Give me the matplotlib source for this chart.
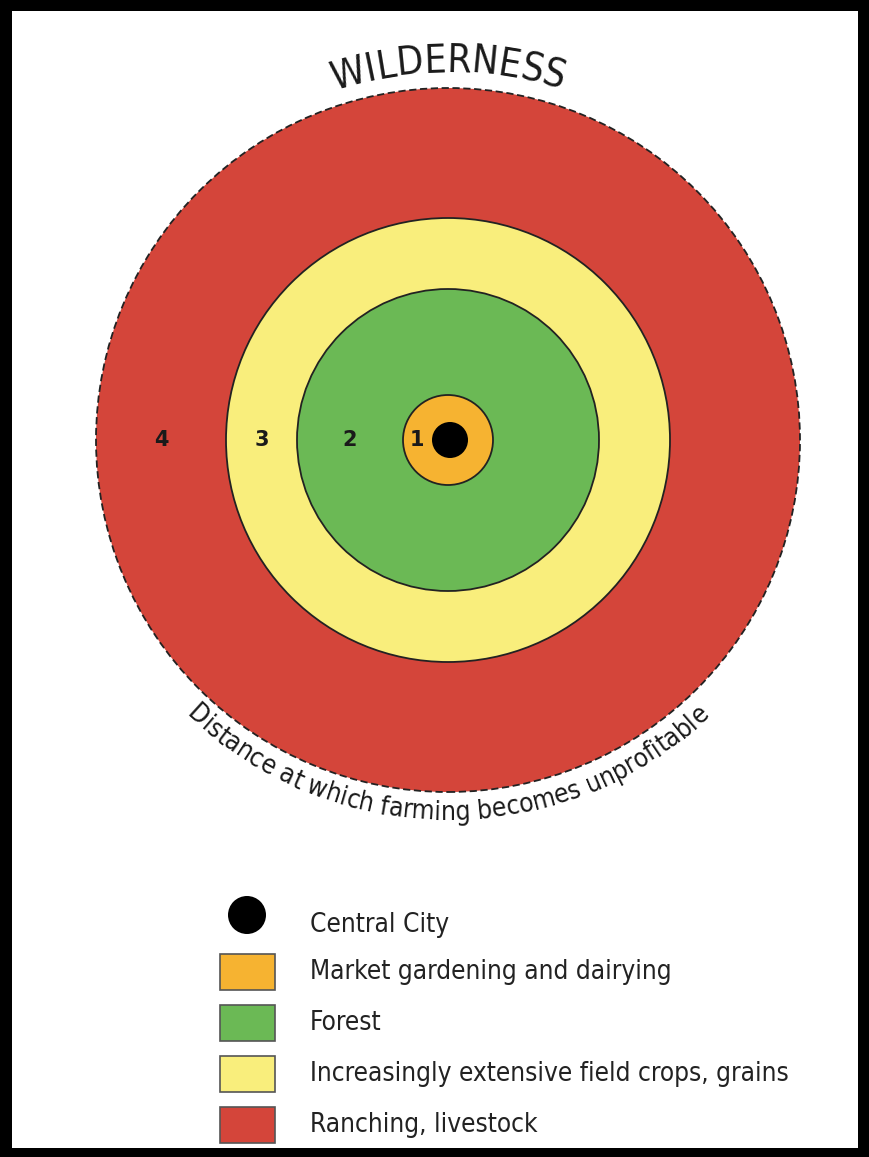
import numpy as np
import matplotlib.pyplot as plt
from matplotlib.patches import Circle, Rectangle
from matplotlib.font_manager import FontProperties
from matplotlib.textpath import TextToPath

# von Thunen zones, from the city outwards
zone_numbers = ['1', '2', '3', '4']
zone_names = ['Market gardening and dairying', 'Forest',
              'Increasingly extensive field crops, grains', 'Ranching, livestock']
zone_radii = [45, 151, 222, 352]          # outer edge of each ring
zone_colors = ['#F6B331', '#6BB955', '#F9EE7C', '#D4453A']
city_name = 'Central City'
city_radius = 18
top_label = 'WILDERNESS'
bottom_label = 'Distance at which farming becomes unprofitable'

W, H = 869, 1157
CX, CY = 448, H - 440
FONT = ['DejaVu Sans']
tp = TextToPath()


def text_w(s, fp):
    # width in pixels (dpi 100)
    return tp.get_text_width_height_descent(s, fp, ismath=False)[0] * 100 / 72


def arc_text(ax, s, radius, fp, top=True):
    total = text_w(s, fp)
    for i, ch in enumerate(s):
        c = (text_w(s[:i], fp) + text_w(s[:i + 1], fp)) / 2 if i else text_w(ch, fp) / 2
        off = np.degrees((total / 2 - c) / radius)
        if top:
            th = 90 + off
            rot = th - 90
        else:
            th = 270 - off
            rot = th - 270
        x = CX + radius * np.cos(np.radians(th))
        y = CY + radius * np.sin(np.radians(th))
        ax.text(x, y, ch, rotation=rot, rotation_mode='anchor', ha='center',
                va='baseline', fontproperties=fp, color='#1a1a1a')


def main():
    fig = plt.figure(figsize=(W / 100, H / 100), dpi=100)
    fig.patch.set_facecolor('black')
    ax = fig.add_axes([0, 0, 1, 1])
    ax.set_xlim(0, W)
    ax.set_ylim(0, H)
    ax.set_aspect('equal')
    ax.axis('off')

    # white panel
    ax.add_patch(Rectangle((12, H - 1148), 846, 1137, facecolor='white', edgecolor='none'))

    # rings, largest first
    for k in range(len(zone_radii) - 1, -1, -1):
        outer = k == len(zone_radii) - 1
        ax.add_patch(Circle((CX, CY), zone_radii[k], facecolor=zone_colors[k],
                            edgecolor='#222222', lw=1.3,
                            linestyle=(0, (4, 2)) if outer else '-'))
    ax.add_patch(Circle((CX + 2, CY), city_radius, facecolor='black', edgecolor='none'))

    inner = [city_radius] + zone_radii[:-1]
    for k, num in enumerate(zone_numbers):
        r = (inner[k] + zone_radii[k]) / 2
        ax.text(CX - r, CY, num, ha='center', va='center', fontsize=15,
                fontweight='bold', family=FONT, color='#1a1a1a')

    arc_text(ax, top_label, 368, FontProperties(family=FONT, size=28, stretch='condensed'), top=True)
    arc_text(ax, bottom_label, 380, FontProperties(family=FONT, size=19, stretch='condensed'), top=False)

    # legend
    ax.add_patch(Circle((247, H - 915), 19, facecolor='black', edgecolor='none'))
    ax.text(310, H - 925, city_name, ha='left', va='center', fontsize=18.8,
            family=FONT, stretch='condensed', color='#222222')
    for k, name in enumerate(zone_names):
        yc = H - (972 + 51 * k)
        ax.add_patch(Rectangle((220, yc - 18), 55, 36, facecolor=zone_colors[k],
                               edgecolor='#555555', lw=1.2))
        ax.text(310, yc, name, ha='left', va='center', fontsize=18.8,
                family=FONT, stretch='condensed', color='#222222')

    fig.savefig('out.png', dpi=100, facecolor=fig.get_facecolor())


main()
